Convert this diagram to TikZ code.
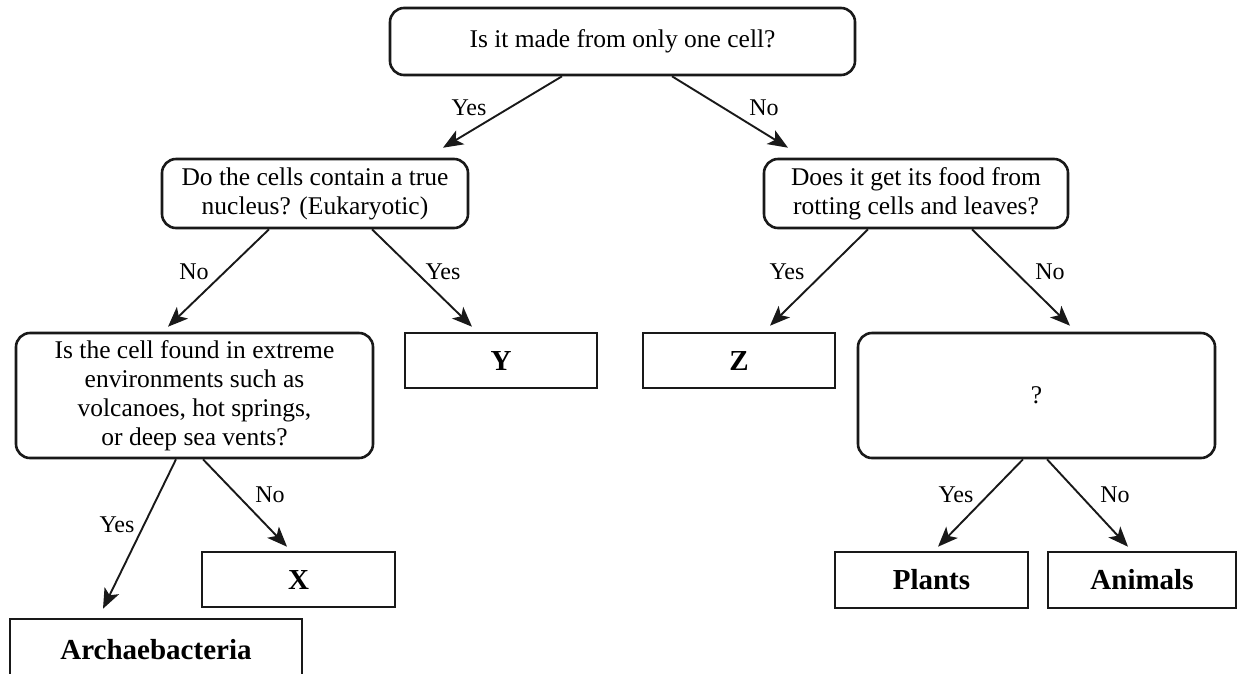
\documentclass[tikz,border=0pt]{standalone}
\usepackage{fontspec}
\setmainfont{Liberation Serif}
\usetikzlibrary{arrows.meta}
\begin{document}
\begin{tikzpicture}[x=1pt,y=-1pt,
  qbox/.style={draw=black!90, line width=2.6pt, rounded corners=14pt, inner sep=0pt,
    align=center, font=\fontsize{25.5}{29}\selectfont},
  abox/.style={draw=black!90, line width=2.6pt, inner sep=0pt, align=center,
    font=\fontsize{29}{32}\selectfont\bfseries},
  conn/.style={line width=1.9pt, draw=black!90, -{Stealth[length=20pt,width=16pt,inset=5pt]}},
  lbl/.style={inner sep=0pt, font=\fontsize{24}{28}\selectfont}]
\clip (0,0) rectangle (1238,673);
\fill[white] (0,0) rectangle (1238,673);

% question boxes
\node[qbox, minimum width=465pt, minimum height=67pt] (top) at (622.5,41.5) {Is it made from only one cell?};
\node[qbox, minimum width=306pt, minimum height=69pt] (b2) at (315,193.5) {Do the cells contain a true\\nucleus? (Eukaryotic)};
\node[qbox, minimum width=304pt, minimum height=69pt] (b3) at (916,193.5) {Does it get its food from\\rotting cells and leaves?};
\node[qbox, minimum width=357pt, minimum height=125pt] (cellq) at (194.5,395.5) {Is the cell found in extreme\\environments such as\\volcanoes, hot springs,\\or deep sea vents?};
\node[qbox, minimum width=357pt, minimum height=125pt] (qq) at (1036.5,395.5) {?};

% answer boxes
\node[abox, minimum width=192pt, minimum height=55pt] (Y) at (501,360.5) {Y};
\node[abox, minimum width=192pt, minimum height=55pt] (Z) at (739,360.5) {Z};
\node[abox, minimum width=193pt, minimum height=55pt] (X) at (298.5,579.5) {X};
\node[abox, minimum width=193pt, minimum height=56pt] (pl) at (931.5,580) {Plants};
\node[abox, minimum width=188pt, minimum height=56pt] (an) at (1142,580) {Animals};
\node[abox, minimum width=292pt, minimum height=62pt] (ar) at (156,650) {Archaebacteria};

% connectors
\draw[conn] ([xshift=-60.5pt]top.south) -- ([xshift=128pt,yshift=10pt]b2.north);
\draw[conn] ([xshift=49.5pt]top.south) -- ([xshift=-128pt,yshift=10pt]b3.north);
\draw[conn] ([xshift=-46pt]b2.south) -- ([xshift=-26.5pt,yshift=5pt]cellq.north);
\draw[conn] ([xshift=57pt]b2.south) -- ([xshift=-29pt,yshift=5pt]Y.north);
\draw[conn] ([xshift=-48pt]b3.south) -- ([xshift=31pt,yshift=6pt]Z.north);
\draw[conn] ([xshift=56pt]b3.south) -- ([xshift=33.5pt,yshift=6pt]qq.north);
\draw[conn] ([xshift=-18.5pt]cellq.south) -- ([xshift=-53pt,yshift=9pt]ar.north);
\draw[conn] ([xshift=8.5pt]cellq.south) -- ([xshift=-11.5pt,yshift=4pt]X.north);
\draw[conn] ([xshift=-13.5pt]qq.south) -- ([xshift=6.5pt,yshift=4pt]pl.north);
\draw[conn] ([xshift=10.5pt]qq.south) -- ([xshift=-14pt,yshift=4pt]an.north);

% labels
\node[lbl] (l1) at (469,108) {Yes};
\node[lbl] (l2) at (764,108) {No};
\node[lbl] (l3) at (194,272) {No};
\node[lbl] (l4) at (443,272) {Yes};
\node[lbl] (l5) at (787,272) {Yes};
\node[lbl] (l6) at (1050,272) {No};
\node[lbl] (l7) at (117,525) {Yes};
\node[lbl] (l8) at (270,495) {No};
\node[lbl] (l9) at (956,495) {Yes};
\node[lbl] (l10) at (1115,495) {No};
\end{tikzpicture}
\end{document}
